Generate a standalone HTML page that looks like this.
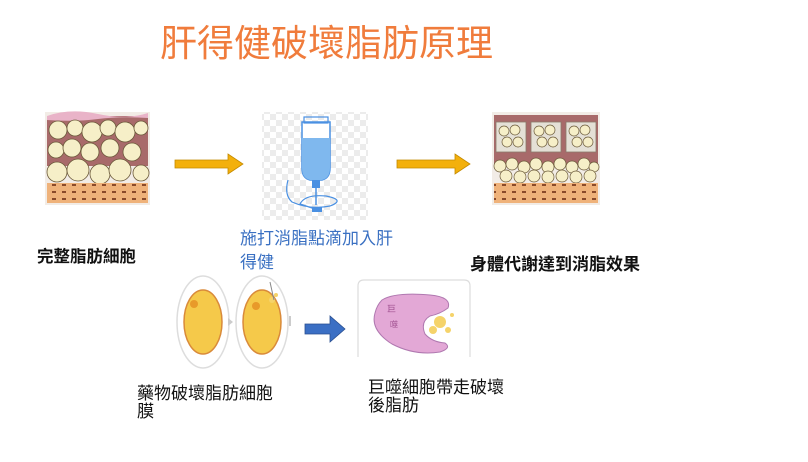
<!DOCTYPE html>
<html><head><meta charset="utf-8"><style>
html,body{margin:0;padding:0;background:#fff;}
body{width:808px;height:457px;overflow:hidden;font-family:"Liberation Sans","Noto Sans CJK TC",sans-serif;}
</style></head><body>
<svg width="808" height="457" viewBox="0 0 808 457" xmlns="http://www.w3.org/2000/svg" style="font-family:'Liberation Sans','Noto Sans CJK TC',sans-serif">
<defs>
<pattern id="chk" width="12" height="12" patternUnits="userSpaceOnUse">
<rect width="12" height="12" fill="#fff"/><rect width="6" height="6" fill="#ececec"/><rect x="6" y="6" width="6" height="6" fill="#ececec"/>
</pattern>
<pattern id="dots" width="10" height="7" patternUnits="userSpaceOnUse">
<rect width="10" height="7" fill="#efb27a"/><rect x="2" y="2" width="4" height="2" fill="#8a4a2a"/>
</pattern>
</defs>
<text x="160" y="56" font-size="37" fill="#f07c3c">肝得健破壞脂肪原理</text>

<!-- left fat tissue -->
<g>
<rect x="45" y="112" width="105" height="93" fill="#f2ece6"/>
<rect x="47" y="116" width="101" height="50" fill="#a86a6a"/>
<path d="M47 116 Q70 108 98 114 T148 113 L148 118 Q120 116 98 119 T47 120Z" fill="#e9b3c8"/>
<g fill="#f6efc8" stroke="#6b5a3a" stroke-width="0.8">
<circle cx="58" cy="130" r="9"/><circle cx="75" cy="128" r="8"/><circle cx="92" cy="132" r="10"/><circle cx="108" cy="128" r="8"/><circle cx="125" cy="132" r="10"/><circle cx="141" cy="128" r="7"/>
<circle cx="56" cy="150" r="8"/><circle cx="72" cy="148" r="9"/><circle cx="90" cy="152" r="9"/><circle cx="110" cy="148" r="9"/><circle cx="132" cy="152" r="9"/>
<circle cx="57" cy="172" r="10"/><circle cx="78" cy="170" r="11"/><circle cx="100" cy="174" r="10"/><circle cx="120" cy="170" r="11"/><circle cx="141" cy="173" r="8"/>
</g>
<rect x="47" y="183" width="101" height="20" fill="url(#dots)"/>
</g>

<polygon points="175,160 228,160 228,154 243,164 228,174 228,168 175,168" fill="#f3b00c" stroke="#c48a00" stroke-width="0.8"/>
<polygon points="397,160 455,160 455,154 470,164 455,174 455,168 397,168" fill="#f3b00c" stroke="#c48a00" stroke-width="0.8"/>

<!-- IV -->
<rect x="262" y="112" width="106" height="108" fill="url(#chk)"/>
<path d="M302 122 L330 122 L330 168 Q330 178 322 180 L310 180 Q302 178 302 168Z" fill="#fff" stroke="#4a90e2" stroke-width="1.5"/>
<path d="M302 138 L330 138 L330 168 Q330 178 322 180 L310 180 Q302 178 302 168Z" fill="#7fb8ee"/>
<rect x="304" y="117" width="24" height="6" fill="none" stroke="#4a90e2" stroke-width="1.2"/>
<rect x="312" y="180" width="8" height="8" fill="#4a90e2"/>
<path d="M316 188 L316 205" stroke="#4a90e2" stroke-width="1.5"/>
<path d="M288 180 Q284 195 292 202 Q310 210 330 206 Q346 200 326 196 Q305 194 300 204 L318 210" fill="none" stroke="#4a90e2" stroke-width="1.2"/>
<rect x="312" y="207" width="10" height="5" fill="#4a90e2"/>

<!-- right fat tissue -->
<g>
<rect x="492" y="112" width="108" height="93" fill="#f2ece6"/>
<rect x="494" y="115" width="104" height="50" fill="#a86a6a"/>
<g fill="#e4e0d6" stroke="#8a7a6a" stroke-width="0.8">
<rect x="496" y="122" width="30" height="30"/><rect x="531" y="122" width="30" height="30"/><rect x="566" y="122" width="30" height="30"/>
</g>
<g fill="#f6efc8" stroke="#6b5a3a" stroke-width="0.7">
<circle cx="504" cy="131" r="5"/><circle cx="515" cy="130" r="5"/><circle cx="507" cy="142" r="5"/><circle cx="518" cy="142" r="5"/>
<circle cx="539" cy="131" r="5"/><circle cx="550" cy="130" r="5"/><circle cx="542" cy="142" r="5"/><circle cx="553" cy="142" r="5"/>
<circle cx="574" cy="131" r="5"/><circle cx="585" cy="130" r="5"/><circle cx="577" cy="142" r="5"/><circle cx="588" cy="142" r="5"/>
<circle cx="500" cy="166" r="6"/><circle cx="512" cy="164" r="6"/><circle cx="524" cy="167" r="6"/><circle cx="536" cy="164" r="6"/><circle cx="548" cy="167" r="6"/><circle cx="560" cy="164" r="6"/><circle cx="572" cy="167" r="6"/><circle cx="584" cy="164" r="6"/><circle cx="594" cy="167" r="5"/>
<circle cx="506" cy="176" r="6"/><circle cx="520" cy="177" r="6"/><circle cx="534" cy="176" r="6"/><circle cx="548" cy="177" r="6"/><circle cx="562" cy="176" r="6"/><circle cx="576" cy="177" r="6"/><circle cx="590" cy="176" r="6"/>
</g>
<rect x="494" y="183" width="104" height="20" fill="url(#dots)"/>
</g>

<text x="37" y="262" font-size="16.5" font-weight="bold" fill="#111">完整脂肪細胞</text>
<text x="240" y="244" font-size="17" fill="#3a70c2">施打消脂點滴加入肝</text>
<text x="240" y="268" font-size="17" fill="#3a70c2">得健</text>
<text x="470" y="270" font-size="17" font-weight="bold" fill="#111">身體代謝達到消脂效果</text>

<!-- cells -->
<ellipse cx="203" cy="322" rx="26" ry="46" fill="#fff" stroke="#ddd" stroke-width="1.5"/>
<ellipse cx="203" cy="322" rx="19" ry="32" fill="#f5c94a" stroke="#d98a3a" stroke-width="1.5"/>
<circle cx="194" cy="304" r="4" fill="#e89a2a"/>
<polygon points="228,318 233,322 228,326" fill="#ccc"/>
<ellipse cx="262" cy="322" rx="26" ry="46" fill="#fff" stroke="#ddd" stroke-width="1.5"/>
<ellipse cx="262" cy="322" rx="19" ry="32" fill="#f5c94a" stroke="#d98a3a" stroke-width="1.5"/>
<circle cx="256" cy="306" r="4" fill="#e89a2a"/>
<circle cx="272" cy="300" r="3" fill="#f5d36a"/><circle cx="276" cy="295" r="2" fill="#f5d36a"/>
<path d="M270 282 L274 300" stroke="#888" stroke-width="1"/>
<rect x="289" y="316" width="2" height="10" fill="#ccc"/>

<polygon points="305,324 330,324 330,316 345,329 330,342 330,334 305,334" fill="#3b6fc4" stroke="#2a4f90" stroke-width="0.8"/>

<!-- macrophage -->
<path d="M358 357 L358 286 Q358 280 364 280 L464 280 Q470 280 470 286 L470 357" fill="#fff" stroke="#ddd" stroke-width="1.2"/>
<path d="M382 300 Q395 292 430 295 Q452 297 448 308 Q440 314 430 316 Q420 322 425 334 Q432 342 445 343 Q452 348 440 352 Q415 356 392 344 Q370 330 375 313 Q377 305 382 300Z" fill="#e3a8d6" stroke="#b078b0" stroke-width="1"/>
<text x="387" y="312" font-size="9" fill="#a05090">巨</text>
<text x="390" y="327" font-size="8" fill="#a05090">噬</text>
<circle cx="440" cy="322" r="6" fill="#f5d36a"/><circle cx="433" cy="330" r="4" fill="#f5d36a"/><circle cx="448" cy="330" r="3" fill="#f5d36a"/><circle cx="452" cy="315" r="2" fill="#f5d36a"/>

<text x="137" y="399" font-size="17" fill="#111">藥物破壞脂肪細胞</text>
<text x="137" y="417" font-size="17" fill="#111">膜</text>
<text x="368" y="393" font-size="17" fill="#111">巨噬細胞帶走破壞</text>
<text x="368" y="411" font-size="17" fill="#111">後脂肪</text>
</svg>
</body></html>
